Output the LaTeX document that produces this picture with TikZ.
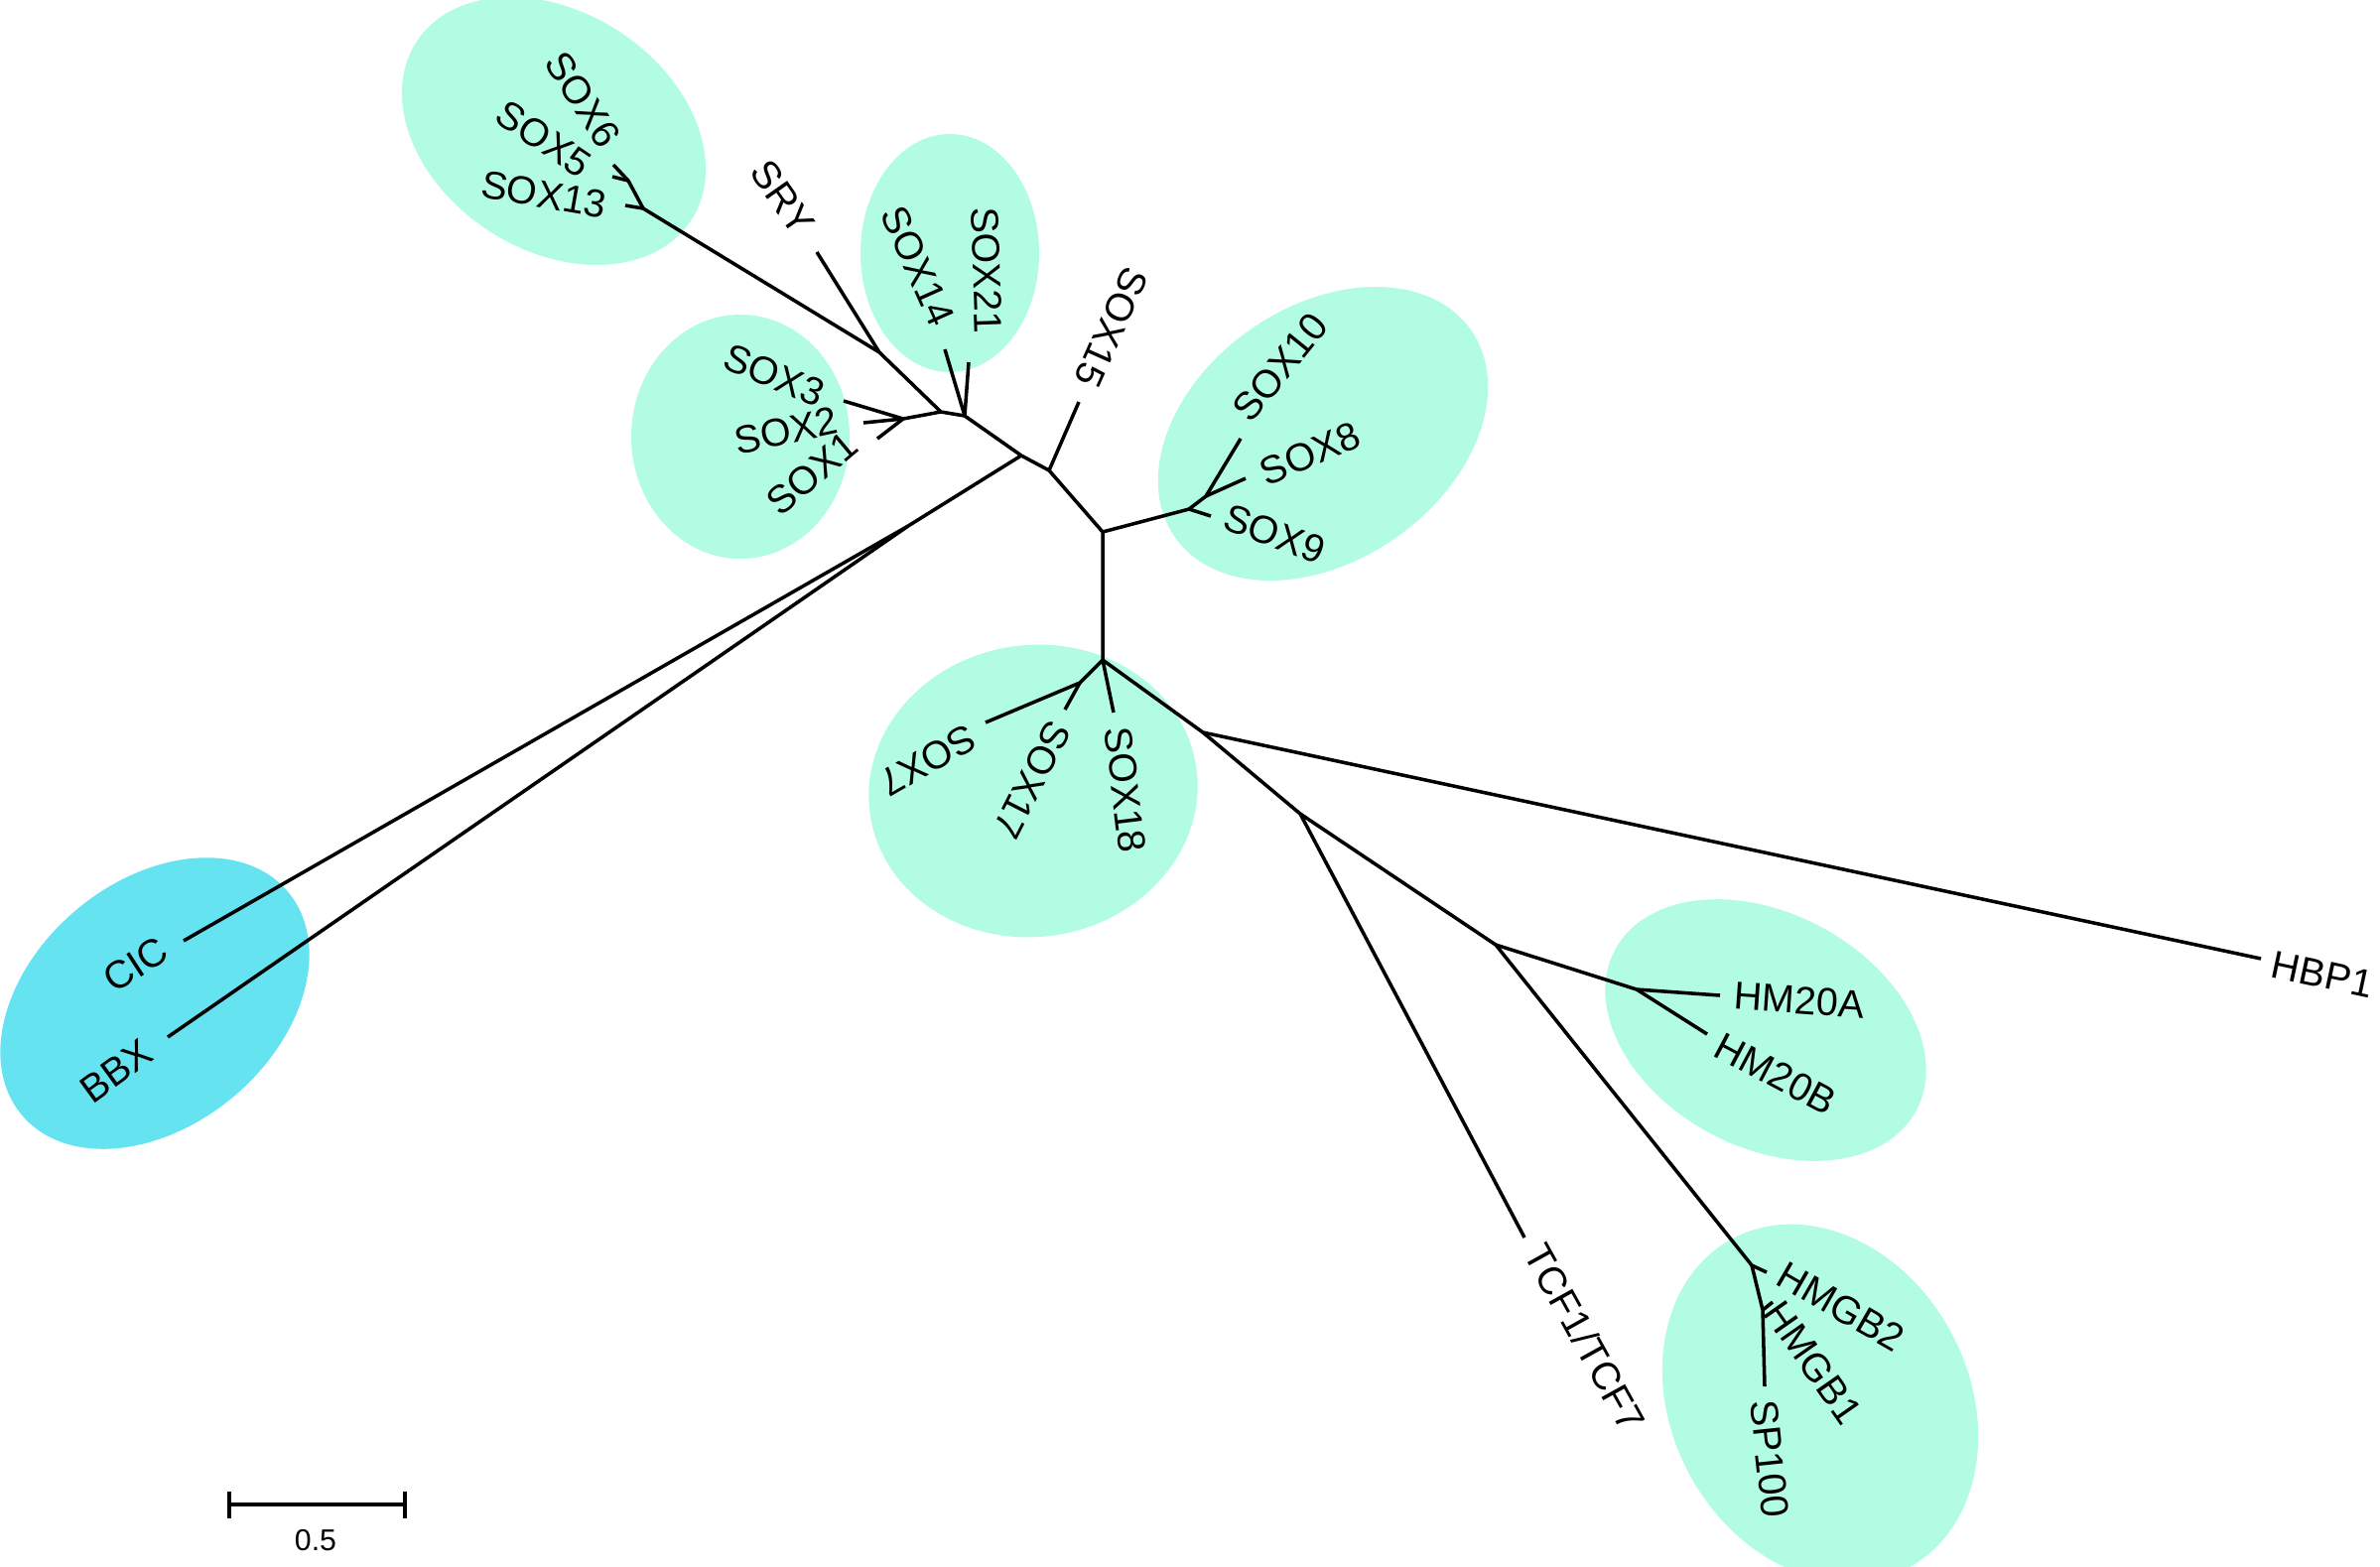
\documentclass[tikz,border=0pt]{standalone}
\usepackage{fontspec}
\setmainfont{Liberation Sans}
\definecolor{mint}{RGB}{178,252,228}
\definecolor{cyanc}{RGB}{102,227,240}
\begin{document}
\begin{tikzpicture}[x=0.01cm,y=0.01cm,
  br/.style={line width=1pt, line join=round},
  lab/.style={font=\fontsize{11.2}{13}\selectfont, inner sep=0pt, anchor=center},
  grp/.style={fill=mint},
  grpc/.style={fill=cyanc}]
\useasboundingbox (0,0) rectangle (2398,-1578);
% group ellipses
\fill[grp, rotate around={-33:(558,-132)}] (558,-132) ellipse [x radius=165, y radius=120];
\fill[grp] (746,-440) ellipse [x radius=110, y radius=123];
\fill[grp] (957,-255) ellipse [x radius=90, y radius=120];
\fill[grpc, rotate around={40:(156,-1011)}] (156,-1011) ellipse [x radius=175, y radius=123];
\fill[grp, rotate around={8:(1041,-797)}] (1041,-797) ellipse [x radius=166, y radius=147];
\fill[grp, rotate around={35:(1333,-437)}] (1333,-437) ellipse [x radius=182, y radius=128];
\fill[grp, rotate around={-28:(1779,-1038)}] (1779,-1038) ellipse [x radius=172, y radius=118];
\fill[grp, rotate around={-62:(1834,-1414)}] (1834,-1414) ellipse [x radius=188, y radius=150];
% internal nodes
\coordinate (E) at (948,-415);
\coordinate (N123) at (910,-422);
\coordinate (JS) at (886,-355);
\coordinate (N13) at (648,-210);
\coordinate (N56) at (633,-182);
\coordinate (N1421) at (972,-419);
\coordinate (C) at (1029,-459);
\coordinate (F) at (915,-530);
\coordinate (A) at (1057,-474);
\coordinate (B) at (1111,-536);
\coordinate (Q) at (1198,-513);
\coordinate (R) at (1215,-500);
\coordinate (H) at (1111,-665);
\coordinate (S7) at (1088,-688);
\coordinate (I) at (1212,-738);
\coordinate (J) at (1310,-820);
\coordinate (K) at (1507,-952);
\coordinate (Lm) at (1649,-997);
\coordinate (M) at (1765,-1275);
\coordinate (Pn) at (1776,-1320);
% leaves
\coordinate (L1) at (884,-442);
\coordinate (L2) at (870,-426);
\coordinate (L3) at (850,-404);
\coordinate (LSRY) at (823,-254);
\coordinate (L13) at (630,-207);
\coordinate (L6) at (618,-166);
\coordinate (L5) at (617,-178);
\coordinate (L14) at (952,-352);
\coordinate (L21) at (976,-365);
\coordinate (LCIC) at (185,-948);
\coordinate (LBBX) at (169,-1045);
\coordinate (L15) at (1087,-405);
\coordinate (L9) at (1220,-520);
\coordinate (L10) at (1250,-442);
\coordinate (L8) at (1255,-482);
\coordinate (L7) at (993,-728);
\coordinate (L17) at (1073,-715);
\coordinate (L18) at (1122,-718);
\coordinate (LHBP) at (2278,-966);
\coordinate (LTCF) at (1536,-1247);
\coordinate (LHA) at (1733,-1003);
\coordinate (LHB) at (1720,-1042);
\coordinate (LG2) at (1780,-1282);
\coordinate (LG1) at (1786,-1312);
\coordinate (LSP) at (1778,-1397);
% branches
\draw[br] (N123) -- (E) -- (N1421) -- (C) -- (A) -- (B) -- (H);
\draw[br] (E) -- (JS) -- (N13);
\draw[br] (JS) -- (LSRY);
\draw[br] (N13) -- (L13);
\draw[br] (N13) -- (N56) -- (L6);
\draw[br] (N56) -- (L5);
\draw[br] (N123) -- (L1);
\draw[br] (N123) -- (L2);
\draw[br] (N123) -- (L3);
\draw[br] (N1421) -- (L14);
\draw[br] (N1421) -- (L21);
\draw[br] (C) -- (F) -- (LCIC);
\draw[br] (F) -- (LBBX);
\draw[br] (A) -- (L15);
\draw[br] (B) -- (Q) -- (L9);
\draw[br] (Q) -- (R) -- (L10);
\draw[br] (R) -- (L8);
\draw[br] (H) -- (L18);
\draw[br] (H) -- (S7) -- (L7);
\draw[br] (S7) -- (L17);
\draw[br] (H) -- (I) -- (LHBP);
\draw[br] (I) -- (J) -- (LTCF);
\draw[br] (J) -- (K) -- (Lm) -- (LHA);
\draw[br] (Lm) -- (LHB);
\draw[br] (K) -- (M) -- (LG2);
\draw[br] (M) -- (Pn) -- (LSP);
\draw[br] (Pn) -- (LG1);
% labels
\node[lab, rotate=-57] (tSOX6) at (587,-100) {SOX6};
\node[lab, rotate=-34] (tSOX5) at (548,-140) {SOX5};
\node[lab, rotate=-10] (tSOX13) at (548,-196) {SOX13};
\node[lab, rotate=-55] (tSRY) at (789,-199) {SRY};
\node[lab, rotate=-22] (tSOX3) at (780,-378) {SOX3};
\node[lab, rotate=12] (tSOX2) at (792,-434) {SOX2};
\node[lab, rotate=40] (tSOX1) at (818,-477) {SOX1};
\node[lab, rotate=-66] (tSOX14) at (925,-268) {SOX14};
\node[lab, rotate=-88] (tSOX21) at (994,-272) {SOX21};
\node[lab, rotate=-114] (tSOX15) at (1120,-330) {SOX15};
\node[lab, rotate=51] (tSOX10) at (1290,-370) {SOX10};
\node[lab, rotate=23] (tSOX8) at (1320,-457) {SOX8};
\node[lab, rotate=-20] (tSOX9) at (1284,-538) {SOX9};
\node[lab, rotate=-150] (tSOX7) at (935,-766) {SOX7};
\node[lab, rotate=-117] (tSOX17) at (1040,-786) {SOX17};
\node[lab, rotate=-83] (tSOX18) at (1134,-796) {SOX18};
\node[lab, rotate=-12] (tHBP1) at (2340,-982) {HBP1};
\node[lab, rotate=-61] (tTCF) at (1597,-1348) {TCF1/TCF7};
\node[lab, rotate=-4] (tHM20A) at (1813,-1008) {HM20A};
\node[lab, rotate=-28] (tHM20B) at (1789,-1082) {HM20B};
\node[lab, rotate=-30] (tHMGB2) at (1855,-1317) {HMGB2};
\node[lab, rotate=-55] (tHMGB1) at (1827,-1373) {HMGB1};
\node[lab, rotate=-84] (tSP100) at (1783,-1470) {SP100};
\node[lab, rotate=33] (tCIC) at (137,-972) {CIC};
\node[lab, rotate=36] (tBBX) at (117,-1079) {BBX};
% scale bar
\coordinate (SBa) at (231,-1516);
\coordinate (SBb) at (408,-1516);
\coordinate (SBat) at (231,-1503);
\coordinate (SBab) at (231,-1530);
\coordinate (SBbt) at (408,-1503);
\coordinate (SBbb) at (408,-1530);
\draw[br] (SBa) -- (SBb);
\draw[br] (SBat) -- (SBab);
\draw[br] (SBbt) -- (SBbb);
\node[font=\fontsize{8.6}{10}\selectfont, inner sep=0pt] (tScale) at (318,-1552) {0.5};
\end{tikzpicture}
\end{document}
